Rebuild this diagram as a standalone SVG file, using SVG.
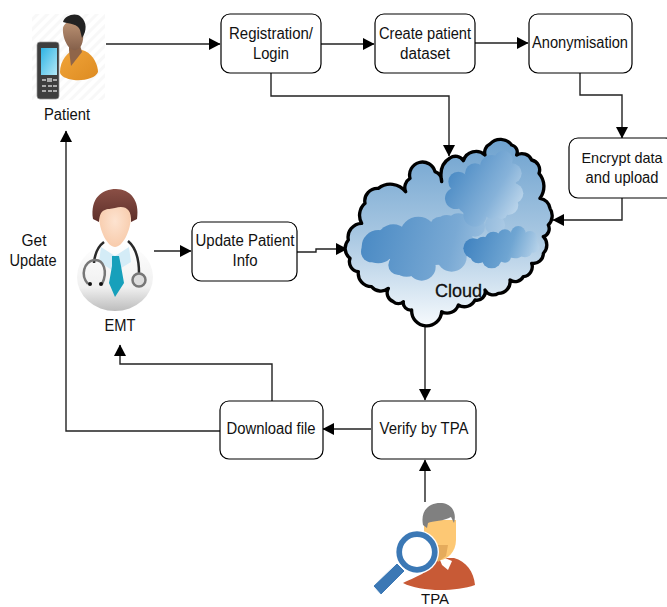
<svg xmlns="http://www.w3.org/2000/svg" width="667" height="607" viewBox="0 0 667 607">
<style>
text{font-family:"Liberation Sans",Arial,sans-serif;font-size:16px;fill:#111;text-anchor:middle}
.box{fill:#fff;stroke:#000;stroke-width:1.2}
.c{fill:none;stroke:#222;stroke-width:1.4;marker-end:url(#arr)}
</style>
<defs>
<marker id="arr" markerUnits="userSpaceOnUse" markerWidth="12" markerHeight="12" refX="11" refY="6" orient="auto"><path d="M0 0L11.500 6L0 12Z" fill="#000"/></marker>
<linearGradient id="sky" x1="0" y1="0" x2="0" y2="1"><stop offset="0" stop-color="#6ea2cf"/><stop offset=".5" stop-color="#a6c6e1"/><stop offset="1" stop-color="#f6fafd"/></linearGradient>
<linearGradient id="puffA" gradientUnits="userSpaceOnUse" x1="80" y1="310" x2="520" y2="420"><stop offset="0" stop-color="#4a8ac4"/><stop offset=".6" stop-color="#79a9d4"/><stop offset="1" stop-color="#b9d3e9"/></linearGradient>
<linearGradient id="puffB" gradientUnits="userSpaceOnUse" x1="340" y1="130" x2="560" y2="260"><stop offset="0" stop-color="#4a8ac4"/><stop offset=".6" stop-color="#86b2d9"/><stop offset="1" stop-color="#c9deef"/></linearGradient>
<linearGradient id="puffC" gradientUnits="userSpaceOnUse" x1="390" y1="320" x2="610" y2="395"><stop offset="0" stop-color="#3f82c0"/><stop offset=".6" stop-color="#6fa5d2"/><stop offset="1" stop-color="#c0d8ec"/></linearGradient>
<linearGradient id="org" x1="0" y1="0" x2="1" y2="1"><stop offset="0" stop-color="#f2a63a"/><stop offset="1" stop-color="#dd8b22"/></linearGradient>
<linearGradient id="skin" x1="0" y1="0" x2="0" y2="1"><stop offset="0" stop-color="#bb9274"/><stop offset="1" stop-color="#85604a"/></linearGradient>
<linearGradient id="scr" x1="0" y1="0" x2="1" y2="1"><stop offset="0" stop-color="#2fb4e4"/><stop offset="1" stop-color="#b3e8f7"/></linearGradient>
<linearGradient id="coat" x1="0" y1="0" x2="0" y2="1"><stop offset="0" stop-color="#fff"/><stop offset=".65" stop-color="#f0f0f0"/><stop offset="1" stop-color="#bdbdbd"/></linearGradient>
<linearGradient id="hairb" x1="0" y1="0" x2="0" y2="1"><stop offset="0" stop-color="#8a4f45"/><stop offset="1" stop-color="#5d2f2a"/></linearGradient>
<radialGradient id="face" cx=".5" cy=".45" r=".6"><stop offset="0" stop-color="#fde3d0"/><stop offset="1" stop-color="#f7c9a8"/></radialGradient>
<pattern id="hatch" width="7" height="7" patternUnits="userSpaceOnUse" patternTransform="rotate(-45)"><rect width="7" height="7" fill="#fff"/><rect width="7" height="3" fill="#f8f8f8"/></pattern>
</defs>

<g id="connectors">
<path class="c" d="M106 44H220"/>
<path class="c" d="M321 44H374"/>
<path class="c" d="M475 43H528"/>
<path class="c" d="M580 73V95H622V138"/>
<path class="c" d="M271 73V96H449V156"/>
<path class="c" d="M622 198V220H553"/>
<path class="c" d="M154 251H191"/>
<path class="c" d="M297 252H316V249H347"/>
<path class="c" d="M425 318V400"/>
<path class="c" d="M371 429H323"/>
<path class="c" d="M272 401V364H120V345"/>
<path class="c" d="M220 431H66V131"/>
<path class="c" d="M425 502V460"/>
</g>

<g id="patient">
<rect x="32" y="14" width="73" height="86" fill="url(#hatch)"/>
<path d="M60 72C60 60 68 52 76 48L85 51C94 55 98 66 98 72C96 78 84 81 74 80C66 79 60 76 60 72Z" fill="url(#org)"/>
<path d="M69 50L71 66L82 52L79 42H69Z" fill="#8f6549"/>
<path d="M63 28C62 38 69 52 76 50C83 48 84 38 83 30C82 20 65 18 63 28Z" fill="url(#skin)"/>
<path d="M63 22C65 15 76 12 81 17C87 22 87 31 82 38L80 30C78 24 70 24 63 22Z" fill="#222"/>
<rect x="37" y="42" width="22" height="57" rx="3" fill="#3e3e3e" stroke="#999" stroke-width=".7"/>
<rect x="41" y="48" width="16" height="27" fill="url(#scr)"/>
<g fill="#aaa"><rect x="42" y="79" width="4" height="2"/><rect x="47" y="78" width="5" height="4"/><rect x="53" y="79" width="4" height="2"/><rect x="42" y="85" width="4" height="2"/><rect x="48" y="85" width="4" height="2"/><rect x="53" y="85" width="4" height="2"/><rect x="42" y="90" width="4" height="2"/><rect x="48" y="90" width="4" height="2"/><rect x="53" y="90" width="4" height="2"/></g>
<text x="67" y="120" textLength="46" lengthAdjust="spacingAndGlyphs">Patient</text>
</g>

<g id="registration"><rect class="box" x="221" y="14" width="100" height="59" rx="9"/><text x="271" y="39" textLength="84" lengthAdjust="spacingAndGlyphs">Registration/</text><text x="271" y="59" textLength="36" lengthAdjust="spacingAndGlyphs">Login</text></g>
<g id="create"><rect class="box" x="375" y="14" width="100" height="59" rx="9"/><text x="425" y="39" textLength="92" lengthAdjust="spacingAndGlyphs">Create patient</text><text x="425" y="59" textLength="50" lengthAdjust="spacingAndGlyphs">dataset</text></g>
<g id="anonymisation"><rect class="box" x="529" y="14" width="103" height="59" rx="9"/><text x="580" y="48" textLength="96" lengthAdjust="spacingAndGlyphs">Anonymisation</text></g>
<g id="encrypt"><rect class="box" x="569" y="138" width="105" height="60" rx="9"/><text x="622" y="163" style="font-size:15px" textLength="81" lengthAdjust="spacingAndGlyphs">Encrypt data</text><text x="622" y="183" textLength="73" lengthAdjust="spacingAndGlyphs">and upload</text></g>

<g id="cloud">
<g transform="translate(335 130) scale(.33333)">
<path d="M320 155C315 130 318 100 345 84A28 28 0 0 1 385 92A40 40 0 0 1 450 75A28 28 0 0 1 465 42A42 42 0 0 1 530 45A22 22 0 0 1 545 75A32 32 0 0 1 590 90A30 30 0 0 1 612 130A60 60 0 0 1 615 205A35 35 0 0 1 645 235A40 40 0 0 1 640 285A25 25 0 0 1 625 320A35 35 0 0 1 625 370A30 30 0 0 1 590 400A30 30 0 0 1 565 440A28 28 0 0 1 525 450A35 35 0 0 1 490 490A28 28 0 0 1 450 480A25 25 0 0 1 420 510A35 35 0 0 1 370 525A35 35 0 0 1 320 545A45 45 0 0 1 230 540A22 22 0 0 1 205 515A22 22 0 0 1 175 515A28 28 0 0 1 160 475A35 35 0 0 1 110 470A40 40 0 0 1 70 425A30 30 0 0 1 45 385A38 38 0 0 1 40 330A42 42 0 0 1 80 280A48 48 0 0 1 90 220A38 38 0 0 1 130 175A58 58 0 0 1 212 185A32 32 0 0 1 225 145A38 38 0 0 1 300 125A30 30 0 0 1 320 155Z" fill="url(#sky)" stroke="#000" stroke-width="10" stroke-linejoin="round"/>
<g fill="url(#puffA)"><circle cx="130" cy="350" r="50"/><circle cx="175" cy="335" r="52"/><circle cx="250" cy="315" r="55"/><circle cx="315" cy="290" r="30"/><circle cx="335" cy="290" r="35"/><circle cx="370" cy="285" r="35"/><circle cx="300" cy="345" r="60"/><circle cx="215" cy="390" r="50"/><circle cx="260" cy="410" r="42"/><circle cx="190" cy="405" r="30"/><circle cx="350" cy="380" r="45"/><circle cx="420" cy="290" r="30"/><circle cx="480" cy="285" r="30"/><circle cx="110" cy="365" r="32"/><circle cx="375" cy="335" r="40"/></g>
<g fill="url(#puffB)"><circle cx="370" cy="155" r="30"/><circle cx="362" cy="205" r="32"/><circle cx="420" cy="130" r="30"/><circle cx="470" cy="110" r="35"/><circle cx="505" cy="90" r="28"/><circle cx="530" cy="130" r="30"/><circle cx="535" cy="190" r="30"/><circle cx="520" cy="225" r="30"/><circle cx="480" cy="190" r="70"/><circle cx="420" cy="200" r="60"/><circle cx="420" cy="255" r="35"/><circle cx="470" cy="245" r="22"/><circle cx="500" cy="250" r="17"/></g>
<g fill="url(#puffC)"><circle cx="415" cy="355" r="30"/><circle cx="445" cy="345" r="25"/><circle cx="475" cy="330" r="25"/><circle cx="510" cy="320" r="22"/><circle cx="550" cy="310" r="22"/><circle cx="585" cy="325" r="22"/><circle cx="595" cy="350" r="18"/><circle cx="500" cy="360" r="35"/><circle cx="540" cy="350" r="35"/><circle cx="470" cy="385" r="30"/><circle cx="430" cy="375" r="25"/><circle cx="510" cy="380" r="18"/><circle cx="570" cy="360" r="22"/></g>
</g>
<text x="458.500" y="297" style="font-size:18px;stroke:#111;stroke-width:.3" textLength="47" lengthAdjust="spacingAndGlyphs">Cloud</text>
</g>

<g id="emt">
<ellipse cx="115" cy="277" rx="38" ry="34" fill="url(#coat)"/>
<path d="M101 247L115 256L129 247L131 262L118 270H112L99 262Z" fill="#d4ecf7"/>
<path d="M112 256H119L121 266L124 283L115 297L109 283L112 266Z" fill="#17a0bb"/>
<path d="M94 263C95 250 100 245 104 242M139 273C139 256 134 246 128 241" fill="none" stroke="#2a2a2a" stroke-width="2.500"/>
<path d="M88 284C80 275 84 262 94 260C104 259 108 272 102 284" fill="none" stroke="#777" stroke-width="2.500"/>
<circle cx="90" cy="284" r="2" fill="#111"/><circle cx="101" cy="284" r="2" fill="#111"/>
<circle cx="139" cy="280" r="6.500" fill="#ddd" stroke="#777" stroke-width="2.500"/>
<path d="M99 215C99 195 131 195 131 215C131 232 122 247 115 247C108 247 99 232 99 215Z" fill="url(#face)"/>
<path d="M93 219C90 198 102 189 116 189C130 189 140 200 137 219L131 222C132 208 124 205 115 208C107 210 100 207 99 222Z" fill="url(#hairb)"/>
<text x="120" y="331" textLength="31" lengthAdjust="spacingAndGlyphs">EMT</text>
</g>

<g id="update"><rect class="box" x="192" y="222" width="105" height="59" rx="9"/><text x="245" y="246" textLength="99" lengthAdjust="spacingAndGlyphs">Update Patient</text><text x="245" y="266" textLength="25" lengthAdjust="spacingAndGlyphs">Info</text></g>
<g id="verify"><rect class="box" x="372" y="401" width="104" height="58" rx="9"/><text x="424" y="434" textLength="89" lengthAdjust="spacingAndGlyphs">Verify by TPA</text></g>
<g id="download"><rect class="box" x="220" y="401" width="103" height="58" rx="9"/><text x="271" y="434" textLength="89" lengthAdjust="spacingAndGlyphs">Download file</text></g>

<g id="get-update"><text x="34" y="246" textLength="25" lengthAdjust="spacingAndGlyphs">Get</text><text x="33" y="266" textLength="47" lengthAdjust="spacingAndGlyphs">Update</text></g>

<g id="tpa">
<path d="M403 583C413 578 432 572 438 558L454 558C466 561 474 572 475 585C455 592 420 592 403 583Z" fill="#c85a36"/>
<path d="M438 555L452 561L448 570L442 565Z" fill="#fff"/>
<path d="M424 520H456V540C456 552 447 560 440 560C432 560 424 545 424 535Z" fill="#fdc874"/>
<path d="M428 545H448L446 556L438 562Z" fill="#e5ab5c"/>
<path d="M423 525C420 510 430 502 442 503C452 504 457 513 454 523L451 517C445 521 432 521 428 523L427 528Z" fill="#808080"/>
<path d="M397 563L373 586L381 595L405 571Z" fill="#3b78b5" stroke="#fff" stroke-width="1"/>
<circle cx="417" cy="552" r="22" fill="#fff"/>
<circle cx="417" cy="552" r="17.800" fill="#fff" stroke="#3b78b5" stroke-width="5.700"/>
<text x="435" y="604" style="font-size:14px" textLength="28" lengthAdjust="spacingAndGlyphs">TPA</text>
</g>
</svg>
